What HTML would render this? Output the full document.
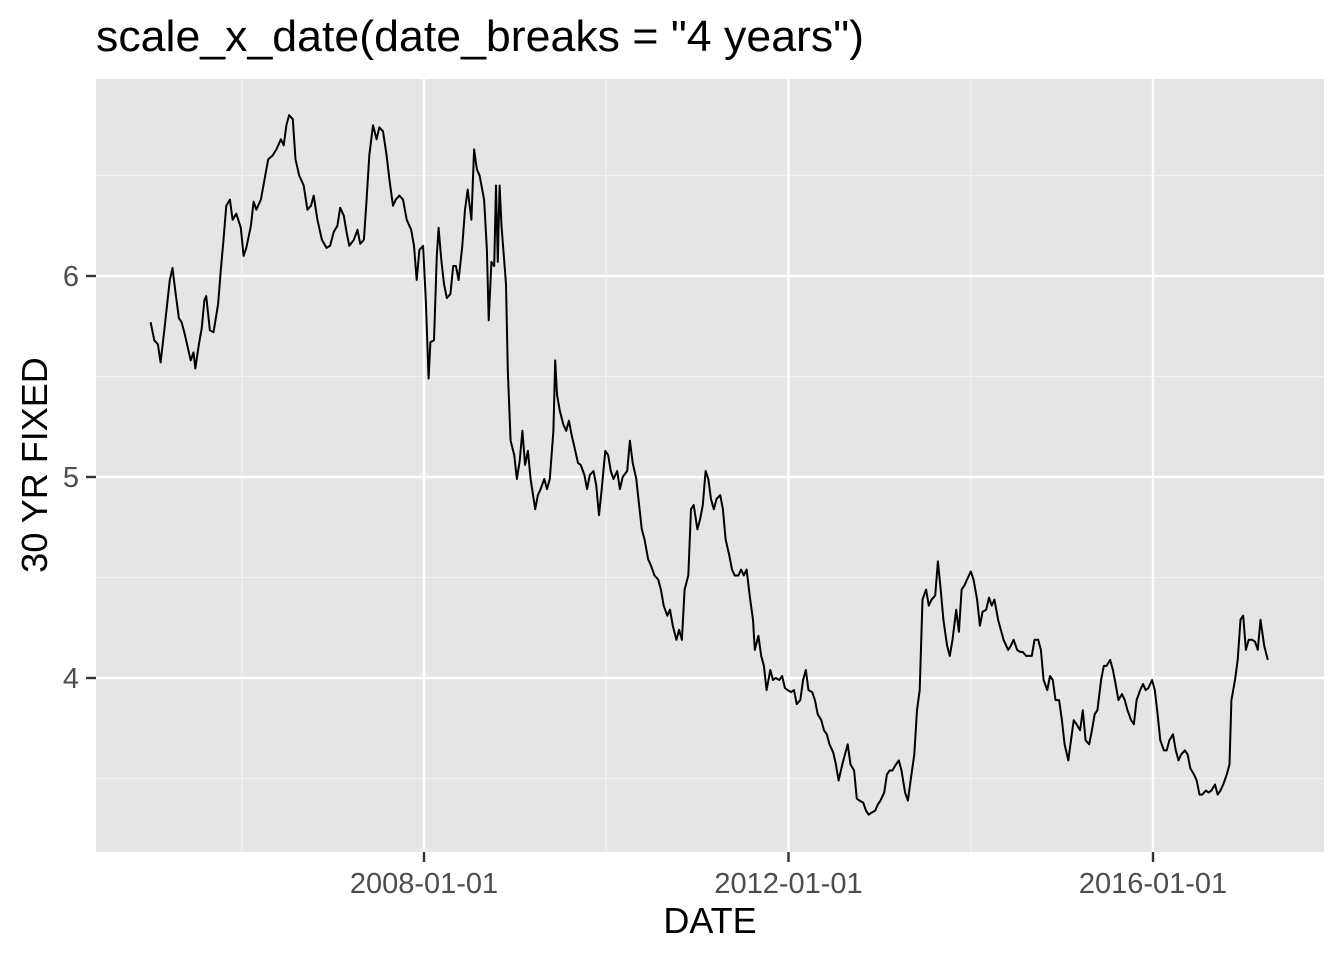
<!DOCTYPE html>
<html><head><meta charset="utf-8">
<style>
body{margin:0;background:#fff;}
svg{display:block;font-family:"Liberation Sans",Arial,sans-serif;}
</style></head>
<body>
<svg id="chart" width="1344" height="960">
<text x="96" y="51" font-size="44" fill="#000" textLength="768" lengthAdjust="spacingAndGlyphs">scale_x_date(date_breaks = "4 years")</text>
<rect x="96" y="79" width="1228" height="773" fill="#e5e5e5"/>
<g id="grid"></g>
<g id="ticks"></g>
<path id="line" fill="none" stroke="#000" stroke-width="2" stroke-linejoin="round"/>
<text x="710" y="933" font-size="36" text-anchor="middle">DATE</text>
<text transform="translate(47,465) rotate(-90)" font-size="36" text-anchor="middle">30 YR FIXED</text>
</svg>
<script>
const years=[2005.00,2005.04,2005.08,2005.11,2005.15,2005.21,2005.24,2005.27,2005.31,2005.34,2005.37,2005.41,2005.44,2005.47,2005.49,2005.53,2005.56,2005.59,2005.61,2005.65,2005.69,2005.74,2005.77,2005.80,2005.83,2005.87,2005.90,2005.94,2005.99,2006.02,2006.05,2006.10,2006.13,2006.16,2006.21,2006.25,2006.29,2006.34,2006.38,2006.43,2006.46,2006.49,2006.52,2006.56,2006.59,2006.63,2006.68,2006.72,2006.76,2006.79,2006.83,2006.88,2006.93,2006.97,2007.01,2007.05,2007.08,2007.12,2007.15,2007.18,2007.23,2007.27,2007.30,2007.34,2007.37,2007.40,2007.44,2007.48,2007.51,2007.55,2007.59,2007.62,2007.66,2007.69,2007.73,2007.77,2007.81,2007.86,2007.89,2007.92,2007.95,2007.99,2008.02,2008.05,2008.07,2008.11,2008.14,2008.16,2008.19,2008.22,2008.25,2008.29,2008.32,2008.35,2008.38,2008.42,2008.45,2008.48,2008.52,2008.55,2008.58,2008.61,2008.66,2008.69,2008.71,2008.74,2008.77,2008.79,2008.81,2008.83,2008.85,2008.90,2008.92,2008.95,2008.99,2009.02,2009.05,2009.08,2009.11,2009.14,2009.17,2009.22,2009.25,2009.28,2009.32,2009.35,2009.38,2009.42,2009.44,2009.46,2009.49,2009.53,2009.56,2009.59,2009.62,2009.66,2009.69,2009.72,2009.76,2009.79,2009.82,2009.86,2009.89,2009.92,2009.95,2009.99,2010.02,2010.05,2010.08,2010.12,2010.15,2010.18,2010.23,2010.26,2010.29,2010.33,2010.36,2010.39,2010.42,2010.46,2010.49,2010.53,2010.57,2010.60,2010.63,2010.67,2010.70,2010.73,2010.77,2010.80,2010.83,2010.86,2010.90,2010.93,2010.96,2011.00,2011.03,2011.06,2011.09,2011.12,2011.15,2011.18,2011.21,2011.25,2011.28,2011.31,2011.35,2011.38,2011.41,2011.45,2011.48,2011.51,2011.54,2011.58,2011.61,2011.63,2011.67,2011.70,2011.73,2011.76,2011.80,2011.83,2011.86,2011.90,2011.93,2011.96,2011.99,2012.03,2012.06,2012.09,2012.13,2012.16,2012.19,2012.22,2012.26,2012.29,2012.32,2012.36,2012.39,2012.42,2012.45,2012.49,2012.52,2012.55,2012.59,2012.62,2012.65,2012.68,2012.72,2012.75,2012.78,2012.82,2012.85,2012.88,2012.91,2012.95,2012.98,2013.01,2013.05,2013.08,2013.11,2013.14,2013.18,2013.21,2013.24,2013.28,2013.31,2013.34,2013.38,2013.41,2013.44,2013.47,2013.51,2013.54,2013.57,2013.61,2013.64,2013.67,2013.70,2013.74,2013.77,2013.80,2013.84,2013.87,2013.90,2013.93,2013.97,2014.00,2014.03,2014.07,2014.10,2014.13,2014.17,2014.20,2014.23,2014.26,2014.30,2014.33,2014.36,2014.41,2014.44,2014.47,2014.51,2014.54,2014.57,2014.61,2014.64,2014.67,2014.70,2014.74,2014.77,2014.80,2014.84,2014.87,2014.90,2014.93,2014.97,2015.00,2015.03,2015.07,2015.10,2015.13,2015.16,2015.20,2015.23,2015.26,2015.30,2015.33,2015.36,2015.39,2015.43,2015.46,2015.49,2015.53,2015.56,2015.59,2015.62,2015.66,2015.69,2015.72,2015.76,2015.79,2015.82,2015.86,2015.89,2015.92,2015.95,2015.99,2016.02,2016.05,2016.08,2016.12,2016.15,2016.18,2016.22,2016.25,2016.28,2016.31,2016.35,2016.38,2016.41,2016.45,2016.48,2016.51,2016.54,2016.58,2016.61,2016.64,2016.68,2016.71,2016.74,2016.77,2016.81,2016.84,2016.86,2016.90,2016.93,2016.96,2016.99,2017.02,2017.05,2017.09,2017.12,2017.15,2017.18,2017.22,2017.26];
const rates=[5.77,5.68,5.66,5.57,5.73,5.98,6.04,5.93,5.79,5.77,5.72,5.64,5.58,5.62,5.54,5.66,5.74,5.88,5.90,5.73,5.72,5.86,6.03,6.18,6.35,6.38,6.28,6.31,6.24,6.10,6.14,6.25,6.37,6.33,6.38,6.48,6.58,6.60,6.63,6.68,6.65,6.75,6.80,6.78,6.58,6.50,6.45,6.33,6.35,6.40,6.28,6.18,6.14,6.15,6.22,6.25,6.34,6.30,6.22,6.15,6.18,6.23,6.16,6.18,6.38,6.60,6.75,6.68,6.74,6.72,6.60,6.48,6.35,6.38,6.40,6.38,6.28,6.23,6.15,5.98,6.13,6.15,5.88,5.49,5.67,5.68,6.10,6.24,6.08,5.96,5.89,5.91,6.05,6.05,5.98,6.15,6.33,6.43,6.28,6.63,6.53,6.50,6.38,6.13,5.78,6.07,6.05,6.45,6.07,6.45,6.25,5.96,5.53,5.18,5.11,4.99,5.08,5.23,5.06,5.13,4.99,4.84,4.91,4.94,4.99,4.94,4.99,5.23,5.58,5.41,5.33,5.26,5.23,5.28,5.21,5.13,5.07,5.06,5.01,4.94,5.01,5.03,4.96,4.81,4.94,5.13,5.11,5.03,4.99,5.03,4.94,5.00,5.03,5.18,5.07,4.99,4.86,4.74,4.69,4.59,4.56,4.51,4.49,4.44,4.36,4.31,4.34,4.26,4.19,4.24,4.19,4.44,4.51,4.84,4.86,4.74,4.79,4.86,5.03,4.99,4.89,4.84,4.89,4.91,4.84,4.69,4.61,4.54,4.51,4.51,4.54,4.51,4.54,4.39,4.29,4.14,4.21,4.11,4.06,3.94,4.04,3.99,4.00,3.99,4.01,3.95,3.94,3.93,3.94,3.87,3.89,3.99,4.04,3.94,3.93,3.89,3.82,3.79,3.74,3.72,3.67,3.63,3.57,3.49,3.57,3.62,3.67,3.57,3.54,3.40,3.39,3.38,3.34,3.32,3.33,3.34,3.37,3.39,3.43,3.52,3.54,3.54,3.57,3.59,3.54,3.43,3.39,3.49,3.62,3.84,3.94,4.39,4.44,4.36,4.39,4.41,4.58,4.44,4.29,4.16,4.11,4.19,4.34,4.23,4.44,4.46,4.50,4.53,4.49,4.39,4.26,4.33,4.34,4.40,4.36,4.39,4.29,4.24,4.19,4.14,4.16,4.19,4.14,4.13,4.13,4.11,4.11,4.11,4.19,4.19,4.14,3.99,3.94,4.01,3.99,3.89,3.89,3.79,3.67,3.59,3.69,3.79,3.77,3.74,3.84,3.69,3.67,3.74,3.82,3.84,3.99,4.06,4.06,4.09,4.04,3.97,3.89,3.92,3.89,3.84,3.79,3.77,3.89,3.94,3.97,3.94,3.95,3.99,3.94,3.82,3.69,3.64,3.64,3.69,3.72,3.64,3.59,3.62,3.64,3.62,3.55,3.52,3.49,3.42,3.42,3.44,3.43,3.44,3.47,3.42,3.44,3.47,3.52,3.57,3.89,3.99,4.09,4.29,4.31,4.14,4.19,4.19,4.18,4.14,4.29,4.16,4.09];
const yMajor=[4,5,6];
const yMinor=[3.5,4.5,5.5,6.5];
const xMajor=[2008,2012,2016];
const xMinor=[2006,2010,2014];
const xLabels=["2008-01-01","2012-01-01","2016-01-01"];

const X=v=>424+(v-2008)*91.125;
const Y=v=>276+(6-v)*201;
const NS="http://www.w3.org/2000/svg";
const grid=document.getElementById('grid'), ticks=document.getElementById('ticks');
function ln(p,x1,y1,x2,y2,w,c){const l=document.createElementNS(NS,'line');l.setAttribute('x1',x1);l.setAttribute('y1',y1);l.setAttribute('x2',x2);l.setAttribute('y2',y2);l.setAttribute('stroke',c);l.setAttribute('stroke-width',w);p.appendChild(l);return l;}
function tx(p,x,y,s,anchor){const t=document.createElementNS(NS,'text');t.setAttribute('x',x);t.setAttribute('y',y);t.setAttribute('font-size','29');t.setAttribute('fill','#4d4d4d');t.setAttribute('text-anchor',anchor);t.textContent=s;p.appendChild(t);return t;}
yMinor.forEach(v=>{const l=ln(grid,96,Y(v),1324,Y(v),1.2,'#f2f2f2');

});
xMinor.forEach(v=>{const l=ln(grid,X(v),79,X(v),852,1.2,'#f2f2f2');

});
yMajor.forEach(v=>{const l=ln(grid,96,Y(v),1324,Y(v),2.4,'#fff');


const k=ln(ticks,86,Y(v),96,Y(v),2.4,'#333');


const t=tx(ticks,79,Y(v)+10,String(v),'end');

});
xMajor.forEach((v,i)=>{const l=ln(grid,X(v),79,X(v),852,2.4,'#fff');


const k=ln(ticks,X(v),852,X(v),862,2.4,'#333');


const t=tx(ticks,X(v),893,xLabels[i],'middle');

});
document.getElementById('line').setAttribute('d',years.map((d,i)=>(i?'L':'M')+X(d).toFixed(1)+','+Y(rates[i]).toFixed(1)).join(''));
</script>
</body></html>
